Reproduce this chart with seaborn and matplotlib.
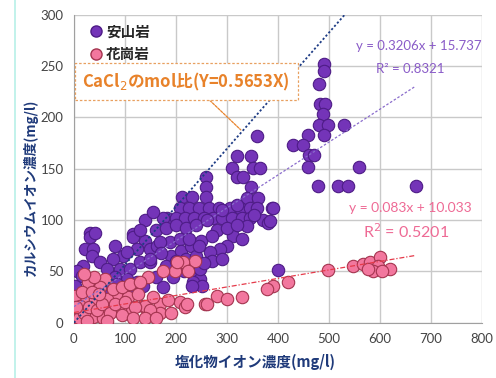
import matplotlib
matplotlib.use("Agg")
import matplotlib.pyplot as plt
import matplotlib.lines as mlines
import numpy as np
import pandas as pd
import seaborn as sns

# andesite (安山岩) samples
andesite_x = [490, 490, 480, 482, 492, 488, 480, 498, 490, 529, 459, 429, 449, 461, 470, 459, 559,
              478, 518, 537, 671, 358, 319, 348, 309, 351, 365, 319, 332, 348, 259, 259, 259, 211,
              231, 339, 361, 388, 208, 225, 245, 265, 285, 305, 325, 345, 359, 371, 380, 182, 200,
              218, 236, 254, 272, 290, 310, 330, 345, 175, 31, 116, 31, 41, 22, 37, 35, 80, 116,
              139, 96, 123, 149, 163, 76, 51, 18, 6, 16, 2, 65, 90, 110, 129, 149, 104, 123, 135,
              233, 247, 233, 251, 231, 247, 400, 384, 390, 339, 312, 300, 286, 267, 188, 169, 208,
              104, 160, 180, 200, 220, 240, 260, 280, 300, 190, 210, 230, 250, 270, 180, 200, 220,
              240, 160, 175, 195, 215, 60, 80, 45, 30, 20, 10, 140, 155, 290, 320, 150, 170, 130,
              330, 320, 352, 270, 290, 255, 245, 225, 85, 105, 70, 40, 25]
andesite_y = [252, 245, 233, 213, 213, 203, 193, 193, 183, 193, 183, 173, 173, 163, 163, 152, 152,
              133, 133, 133, 133, 182, 162, 162, 151, 151, 151, 142, 142, 132, 142, 132, 123, 123,
              123, 122, 122, 112, 112, 112, 112, 112, 112, 112, 112, 112, 112, 100, 97, 102, 102,
              102, 102, 102, 102, 102, 102, 102, 102, 102, 87, 86, 84, 87, 72, 72, 65, 75, 84,
              80, 65, 72, 72, 75, 62, 59, 55, 50, 46, 36, 52, 52, 52, 59, 59, 43, 40, 36,
              48, 43, 40, 36, 36, 52, 51, 99, 112, 94, 85, 75, 72, 69, 79, 79, 82,
              69, 90, 92, 95, 92, 95, 100, 90, 92, 65, 70, 75, 80, 85, 55, 60, 62,
              65, 45, 35, 45, 50, 40, 45, 30, 40, 25, 20, 100, 108, 110, 115, 62, 68, 90,
              82, 95, 105, 60, 62, 58, 75, 82, 38, 30, 28, 20, 15]

# granite (花崗岩) samples
granite_x = [237, 214, 198, 175, 202, 224, 145, 61, 27, 22, 2, 84, 106, 65, 41, 135, 169, 169,
             208, 218, 257, 280, 300, 329, 37, 57, 0, 110, 90, 12, 76, 51, 498, 547, 567, 580,
             600, 596, 620, 586, 604, 576, 390, 378, 420, 261, 222, 139, 10, 20, 30, 45, 55, 70,
             80, 95, 100, 120, 125, 150, 155, 185, 190, 15, 35, 50, 5, 25, 65, 115, 140, 160,
             95, 110, 130, 40, 20]
granite_y = [60, 59, 50, 50, 59, 50, 45, 43, 40, 26, 26, 25, 25, 23, 23, 16, 18, 10,
             20, 15, 18, 26, 23, 25, 6, 5, 6, 11, 13, 16, 33, 35, 51, 55, 57, 59,
             64, 55, 52, 50, 50, 52, 36, 33, 40, 18, 18, 16, 5, 10, 15, 12, 18, 10,
             18, 8, 20, 15, 28, 12, 25, 22, 10, 30, 30, 28, 15, 2, 2, 5, 5, 5,
             35, 38, 40, 45, 48]

# dark markers sitting at the origin
origin_x = [0, 4, 9, 2]
origin_y = [0, 2, 1, 5]

# regression lines and CaCl2 molar ratio line
andesite_fit = (0.3206, 15.737)
granite_fit = (0.083, 10.033)
cacl2_ratio = 0.5653
fit_x = [0, 670]

sns.set_style("white")
plt.rcParams["font.family"] = ["Noto Sans CJK JP", "DejaVu Sans"]

fig = plt.figure(figsize=(4.96, 3.78), dpi=100)
ax = fig.add_axes([0.149, 0.146, 0.823, 0.815])

purple = "#7434B8"
pink = "#F2779E"

sns.scatterplot(x=andesite_x, y=andesite_y, ax=ax, s=80, color=purple,
                edgecolor="#4E1C86", linewidth=0.8, zorder=3)
sns.scatterplot(x=granite_x, y=granite_y, ax=ax, s=80, color=pink,
                edgecolor="#A4344F", linewidth=0.8, zorder=4)
sns.scatterplot(x=origin_x, y=origin_y, ax=ax, s=80, color="#222222",
                edgecolor="#000000", linewidth=0.5, zorder=2)

fx = np.array(fit_x)
ax.plot(fx, andesite_fit[0] * fx + andesite_fit[1], ls=(0, (2, 1.5)), lw=0.9,
        color="#8A6CCC", zorder=5)
ax.plot(fx, granite_fit[0] * fx + granite_fit[1], ls=(0, (4, 1.5, 1, 1.5)), lw=0.9,
        color="#E53A4A", zorder=5)
rx = np.array([0, 300 / cacl2_ratio])
ax.plot(rx, cacl2_ratio * rx, ls=(0, (1.2, 1.2)), lw=1.3, color="#1E3C85", zorder=5)

ax.set_xlim(0, 800)
ax.set_ylim(0, 300)
ax.set_xticks(range(0, 801, 100))
ax.set_yticks(range(0, 301, 50))
ax.grid(True, color="#C9C9C9", lw=1)
ax.set_axisbelow(True)
for side in ["top", "right"]:
    ax.spines[side].set_visible(False)
for side in ["left", "bottom"]:
    ax.spines[side].set_color("#A0A0A0")
ax.tick_params(axis="both", length=4, color="#A0A0A0", labelsize=9.5,
               labelcolor="#444444", direction="out")
for lab in ax.get_xticklabels() + ax.get_yticklabels():
    lab.set_family(["Lato", "DejaVu Sans"])

ax.set_xlabel("塩化物イオン濃度(mg/l)", fontsize=10.5, fontweight="bold",
              color="#1F3A7A")
ax.xaxis.set_label_coords(0.444, -0.10)
ax.set_ylabel("カルシウムイオン濃度(mg/l)", fontsize=9.8, fontweight="bold",
              color="#1F3A7A")
ax.yaxis.set_label_coords(-0.088, 0.44)

# legend
h1 = mlines.Line2D([], [], ls="", marker="o", ms=8, mfc=purple, mec="#4E1C86")
h2 = mlines.Line2D([], [], ls="", marker="o", ms=8, mfc=pink, mec="#A4344F")
leg = ax.legend([h1, h2], ["安山岩", "花崗岩"], loc="upper left",
                bbox_to_anchor=(0.0, 1.015), frameon=False, handletextpad=0.1,
                handlelength=1.2, labelspacing=0.45,
                prop={"family": ["Noto Sans CJK JP"], "weight": "bold", "size": 10.5})
leg.set_zorder(10)

# callout for the CaCl2 line
ax.annotate("", xy=(331, 186), xytext=(257, 221),
            arrowprops=dict(arrowstyle="-", color="#E8822A", lw=0.9, ls=(0, (2, 1))))
ax.text(220, 235, "CaCl$_2$のmol比(Y=0.5653X)", ha="center", va="center",
        fontsize=12, fontweight="bold", color="#E8822A", zorder=6,
        bbox=dict(boxstyle="square,pad=0.45", fc="white", ec="#E8A060",
                  ls=(0, (2, 1.5)), lw=0.9))

eq_font = ["Lato", "DejaVu Sans"]
ax.text(675, 270, "y = 0.3206x + 15.737", ha="center", va="center", fontsize=9.5,
        color="#8A5CC8", family=eq_font, zorder=6)
ax.text(659, 247, "R² = 0.8321", ha="center", va="center", fontsize=9.5,
        color="#8A5CC8", family=eq_font, zorder=6)
ax.text(659, 112, "y = 0.083x + 10.033", ha="center", va="center", fontsize=10,
        color="#EE6A95", family=eq_font, zorder=6)
ax.text(651, 89, "R$^2$ = 0.5201", ha="center", va="center", fontsize=11.5,
        color="#EE6A95", family=eq_font, zorder=6)

# faint frame line on the left edge of the original slide
fig.add_artist(mlines.Line2D([0.03, 0.03], [0, 1], color="#B8F0E8", lw=1.2))

fig.savefig("out.png", dpi=100)
